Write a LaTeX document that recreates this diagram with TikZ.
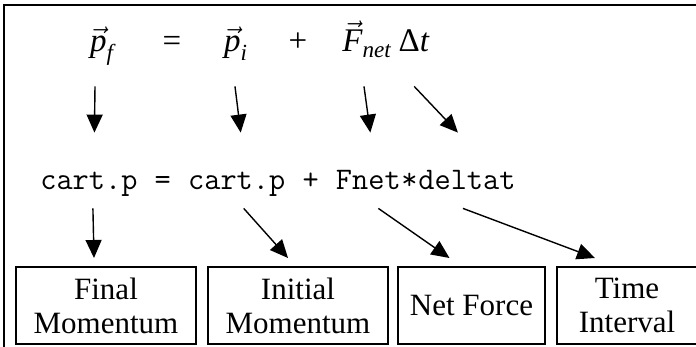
\documentclass[tikz,border=0pt]{standalone}
\usepackage{fontspec}
\usepackage{amsmath}
\setmainfont{Liberation Serif}
\usetikzlibrary{positioning,arrows.meta}

\tikzset{
  eqtext/.style={font=\fontsize{16.5}{20}\selectfont, inner sep=0pt, text depth=4pt},
  codetext/.style={font=\fontsize{15.7}{18}\selectfont\ttfamily, inner sep=0pt, text height=8pt, text depth=2pt},
  termbox/.style={draw, line width=1pt, align=center, minimum height=38.5pt, inner sep=0pt,
    font=\fontsize{15.5}{17}\selectfont},
  pointer/.style={-{Triangle[width=8pt,length=9pt]}, line width=0.7pt},
}

\begin{document}
\begin{tikzpicture}[x=0.5pt,y=-0.5pt]
  \useasboundingbox (0,0) rectangle (696,347);
  % Frame
  \draw[line width=1pt] (4,348) -- (4,5) -- (697,5);
  % Equation
  \node[eqtext, anchor=base] (pf) at (102,52) {$\vec{\textit{p}}_{\textit{f}}$};
  \node[eqtext, anchor=base] (eqsign) at (172,52) {=};
  \node[eqtext, anchor=base] (pi) at (236,52) {$\vec{\textit{p}}_{\textit{i}}$};
  \node[eqtext, anchor=base] (plus) at (298,52) {+};
  \node[eqtext, anchor=base west] (fnet) at (342,52) {$\vec{\textit{F}}_{\textit{net}}$};
  \node[eqtext, base right=3pt of fnet] (dt) {Δ\textit{t}};
  % Code line
  \node[codetext, anchor=base west] (cf) at (40,190) {cart.p};
  \node[codetext, base right=8.25pt of cf] (ceq) {=};
  \node[codetext, base right=8.25pt of ceq] (ci) {cart.p};
  \node[codetext, base right=8.25pt of ci] (cplus) {+};
  \node[codetext, base right=8.25pt of cplus] (cforce) {Fnet};
  \node[codetext, base right=0pt of cforce] (cstar) {*};
  \node[codetext, base right=0pt of cstar] (ctime) {deltat};
  % Boxes
  \node[termbox, minimum width=90pt, anchor=north west] (final) at (15,266) {Final\\Momentum};
  \node[termbox, minimum width=90pt, right=5pt of final] (initial) {Initial\\Momentum};
  \node[termbox, minimum width=73.5pt, right=4pt of initial] (force) {Net Force};
  \node[termbox, minimum width=70pt, right=5pt of force] (interval) {Time\\Interval};
  % Equation to code
  \draw[pointer] ([xshift=-3.5pt,yshift=-13pt]pf.south) -- ([xshift=2.75pt,yshift=20.5pt]cf.north);
  \draw[pointer] ([xshift=-0.5pt,yshift=-13pt]pi.south) -- ([xshift=2pt,yshift=20.5pt]ci.north);
  \draw[pointer] ([xshift=11pt,yshift=-13pt]fnet.south west) -- ([xshift=1pt,yshift=20.5pt]cforce.north);
  \draw[pointer] ([xshift=8pt,yshift=-13pt]dt.south west) -- ([xshift=-4.5pt,yshift=20.5pt]ctime.north);
  % Code to boxes
  \draw[pointer] ([xshift=2pt,yshift=-7pt]cf.south) -- ([xshift=-6pt,yshift=4pt]final.north);
  \draw[pointer] ([xshift=3.5pt,yshift=-7pt]ci.south) -- ([xshift=-5pt,yshift=4pt]initial.north);
  \draw[pointer] ([xshift=5pt,yshift=-7pt]cforce.south) -- ([xshift=-11pt,yshift=4pt]force.north);
  \draw[pointer] ([xshift=-2pt,yshift=-7pt]ctime.south) -- ([xshift=-16pt,yshift=4pt]interval.north);
\end{tikzpicture}
\end{document}
